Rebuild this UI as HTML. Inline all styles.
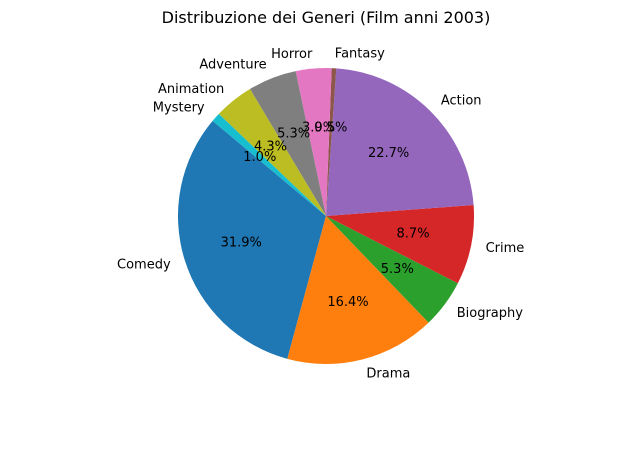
<!DOCTYPE html>
<html><head><meta charset="utf-8"><style>
html,body{margin:0;padding:0;background:#fff;}
svg{display:block;font-family:"DejaVu Sans","Liberation Sans",sans-serif;}
</style></head><body>
<svg id="chart" width="635" height="451" viewBox="0 0 635 451">
<rect width="635" height="451" fill="#fff"/>
<text x="326" y="23" text-anchor="middle" font-size="16" fill="#000">Distribuzione dei Generi (Film anni 2003)</text>
<g id="slices"></g>
<g id="labels"></g>
</svg>
<script>
const categories = ["Comedy","Drama","Biography","Crime","Action","Fantasy","Horror","Adventure","Animation","Mystery"];
const values = [31.9,16.4,5.3,8.7,22.7,0.5,3.9,5.3,4.3,1.0];
const colors = ["#1f77b4","#ff7f0e","#2ca02c","#d62728","#9467bd","#8c564b","#e377c2","#7f7f7f","#bcbd22","#17becf"];
const cx=326, cy=216, R=148, startAngle=140;
const NS="http://www.w3.org/2000/svg";
const gS=document.getElementById('slices'), gL=document.getElementById('labels');
const total=values.reduce((a,b)=>a+b,0);
function pt(a,r){const t=a*Math.PI/180;return [cx+r*Math.cos(t), cy-r*Math.sin(t)];}
let a0=startAngle;
values.forEach((v,i)=>{
  const sweep=v/total*360, a1=a0+sweep;
  const p0=pt(a0,R), p1=pt(a1,R);
  const large=sweep>180?1:0;
  const path=document.createElementNS(NS,'path');
  path.setAttribute('d',`M${cx},${cy} L${p0[0]},${p0[1]} A${R},${R} 0 ${large} 0 ${p1[0]},${p1[1]} Z`);
  path.setAttribute('fill',colors[i]);
  
  
  gS.appendChild(path);
  const mid=(a0+a1)/2;
  const lp=pt(mid,R*1.1);
  const t=document.createElementNS(NS,'text');
  t.setAttribute('x',lp[0]);t.setAttribute('y',lp[1]+4);
  t.setAttribute('font-size','13');
  t.setAttribute('text-anchor',Math.cos(mid*Math.PI/180)>=0?'start':'end');
  t.textContent=categories[i];
  
  
  gL.appendChild(t);
  const pp=pt(mid,R*0.6);
  const p=document.createElementNS(NS,'text');
  p.setAttribute('x',pp[0]);p.setAttribute('y',pp[1]+4);
  p.setAttribute('font-size','13');p.setAttribute('text-anchor','middle');
  p.textContent=v.toFixed(1)+'%';
  
  
  gL.appendChild(p);
  a0=a1;
});
</script>
</body></html>
